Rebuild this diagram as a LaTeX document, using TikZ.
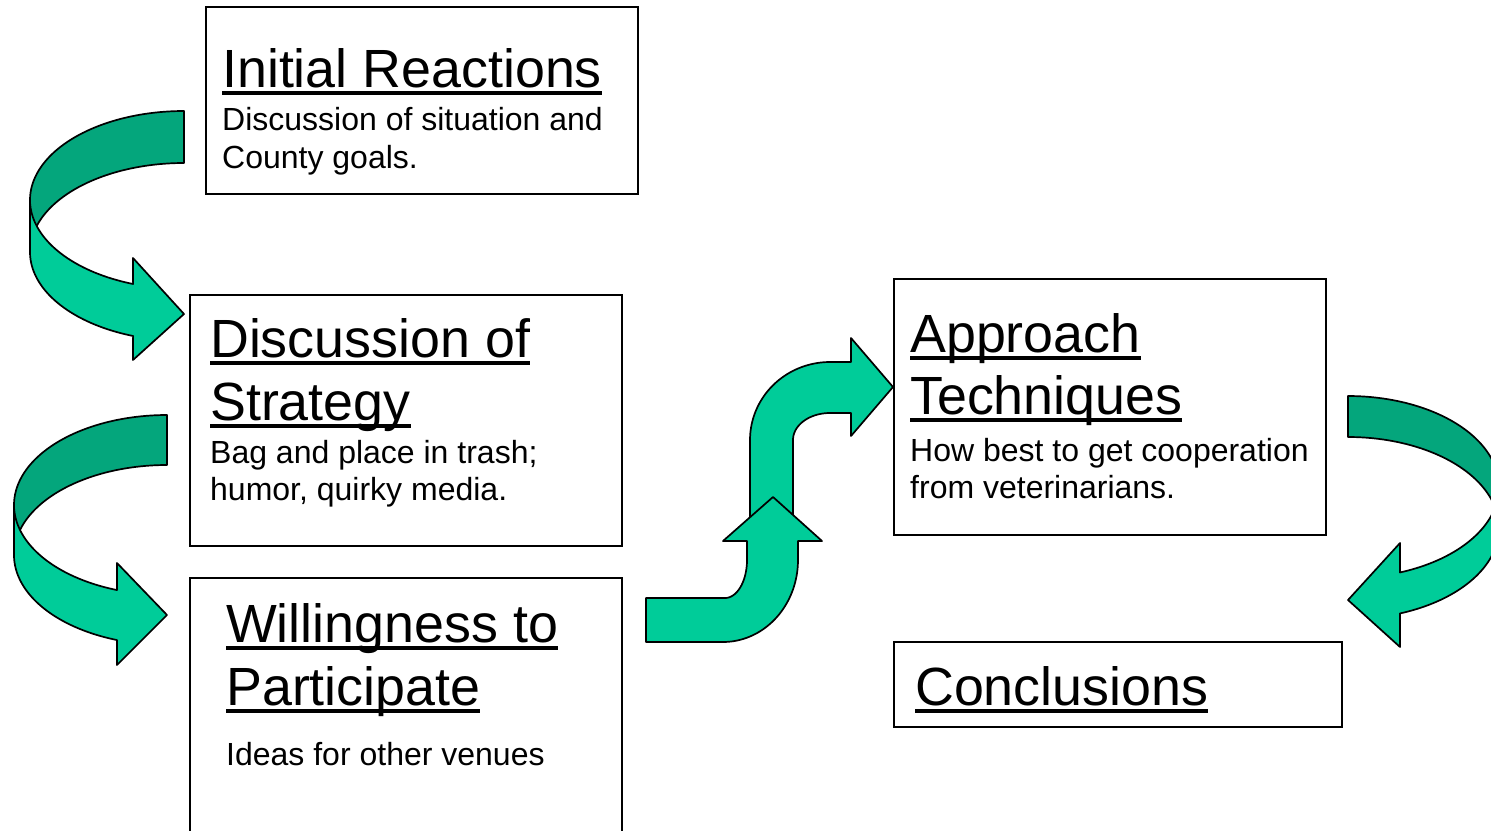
\documentclass[tikz,border=0pt]{standalone}
\usepackage{fontspec}
\setmainfont{Liberation Sans}
\newcommand\ulx[1]{\sbox0{#1}\rlap{\rule[-0.15em]{\wd0}{0.075em}}\usebox0}
\definecolor{lightg}{HTML}{00CC99}
\definecolor{darkg}{HTML}{04A67C}
\begin{document}
\begin{tikzpicture}[x=1bp,y=-1bp,
  box/.style={draw, line width=1.7bp, rectangle, inner sep=0, outer sep=0},
  ttl/.style={anchor=base west, inner sep=0, font=\fontsize{53.8bp}{63bp}\selectfont},
  bdy/.style={anchor=base west, inner sep=0, font=\fontsize{32bp}{38bp}\selectfont},
  lite/.style={fill=lightg, draw=black, line width=1.7bp, line join=round},
  dark/.style={fill=darkg, draw=black, line width=1.7bp, line join=round}]
\useasboundingbox (0,0) rectangle (1491,830);
\clip (0,0) rectangle (1491,830);

% boxes
\node[box, minimum width=432bp, minimum height=187bp] (b1) at (422,100.5) {};
\node[box, minimum width=432bp, minimum height=251bp] (b2) at (406,420.5) {};
\node[box, minimum width=432bp, minimum height=272bp] (b3) at (406,714) {};
\node[box, minimum width=432bp, minimum height=256bp] (b4) at (1110,407) {};
\node[box, minimum width=448bp, minimum height=85bp] (b5) at (1118,684.5) {};

% texts
\node[ttl] (t1) at (222,87) {\ulx{Initial Reactions}};
\node[bdy] (d1a) at (222,130) {Discussion of situation and};
\node[bdy] (d1b) at (222,168) {County goals.};

\node[ttl] (t2a) at (210,357) {\ulx{Discussion of}};
\node[ttl] (t2b) at (210,420) {\ulx{Strategy}};
\node[bdy] (d2a) at (210,463) {Bag and place in trash;};
\node[bdy] (d2b) at (210,500) {humor, quirky media.};

\node[ttl] (t3a) at (226,642) {\ulx{Willingness to}};
\node[ttl] (t3b) at (226,705) {\ulx{Participate}};
\node[bdy] (d3) at (226,765) {Ideas for other venues};

\node[ttl] (t4a) at (910,352) {\ulx{Approach}};
\node[ttl] (t4b) at (910,414) {\ulx{Techniques}};
\node[bdy] (d4a) at (910,461) {How best to get cooperation};
\node[bdy] (d4b) at (910,498) {from veterinarians.};

\node[ttl] (t5) at (915,705) {\ulx{Conclusions}};

% curved arrow 1
\path[dark] plot[domain=270:180,samples=60] ({184+154*cos(\x)},{200+89*sin(\x)})
  -- plot[domain=180:270,samples=60] ({184+154*cos(\x)},{252+89*sin(\x)}) -- cycle;
\path[lite] (30,200) -- plot[domain=180:109.3,samples=60] ({184+154*cos(\x)},{252+89*sin(\x)})
  -- (133,360) -- (184,314) -- (133,258)
  -- plot[domain=109.3:180,samples=60] ({184+154*cos(\x)},{200+89*sin(\x)}) -- cycle;

% curved arrow 2
\path[dark] plot[domain=270:180,samples=60] ({167+153*cos(\x)},{505+90*sin(\x)})
  -- plot[domain=180:270,samples=60] ({167+153*cos(\x)},{555+90*sin(\x)}) -- cycle;
\path[lite] (14,505) -- plot[domain=180:109.1,samples=60] ({167+153*cos(\x)},{555+90*sin(\x)})
  -- (117,665) -- (167,615) -- (117,563)
  -- plot[domain=109.1:180,samples=60] ({167+153*cos(\x)},{505+90*sin(\x)}) -- cycle;

% curved arrow 4 (right side)
\path[dark] plot[domain=-90:0,samples=60] ({1348+151*cos(\x)},{487+91*sin(\x)})
  -- plot[domain=0:-90,samples=60] ({1348+151*cos(\x)},{528+91*sin(\x)}) -- cycle;
\path[lite] (1499,487) -- plot[domain=0:69.9,samples=60] ({1348+151*cos(\x)},{528+91*sin(\x)})
  -- (1400,647) -- (1348,600) -- (1400,543)
  -- plot[domain=69.9:0,samples=60] ({1348+151*cos(\x)},{487+91*sin(\x)}) -- cycle;

% S-shaped arrows
\path[lite] (750,530) -- (750,440)
  -- plot[domain=180:270,samples=40] ({830+80*cos(\x)},{440+78*sin(\x)})
  -- (851,362) -- (851,338) -- (893,387) -- (851,436) -- (851,413)
  -- plot[domain=270:180,samples=40] ({830+37*cos(\x)},{440+27*sin(\x)})
  -- (793,530) -- cycle;
\path[lite] (646,598)
  -- plot[domain=90:0,samples=40] ({725+22*cos(\x)},{560+38*sin(\x)})
  -- (747,541) -- (723,541) -- (773,497) -- (822,541) -- (798,541)
  -- plot[domain=0:90,samples=40] ({723+75*cos(\x)},{560+82*sin(\x)})
  -- (646,642) -- cycle;
\end{tikzpicture}
\end{document}
